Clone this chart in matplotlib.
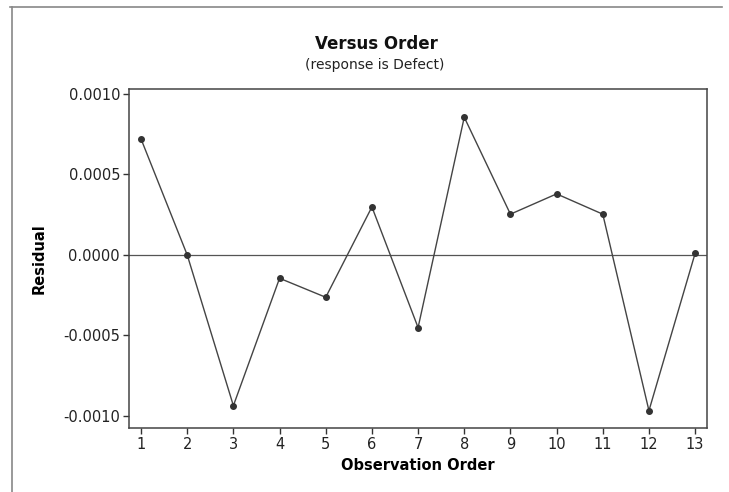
import matplotlib
matplotlib.use('Agg')
import matplotlib.pyplot as plt
from matplotlib.lines import Line2D

# residuals in observation order
order = list(range(1, 14))
residual = [0.00072, 0.0, -0.000936, -0.000145, -0.000263, 0.000298, -0.000451,
            0.000855, 0.000253, 0.000379, 0.000253, -0.000967, 0.00001]
yticks = [-0.0010, -0.0005, 0.0, 0.0005, 0.0010]

plt.rcParams['font.family'] = ['DejaVu Sans']

fig = plt.figure(figsize=(7.29, 4.92), dpi=100)
ax = fig.add_axes([0.177, 0.130, 0.793, 0.689])

ax.axhline(0, color='#555555', lw=0.9, zorder=1)
ax.plot(order, residual, color='#444444', lw=1.0, marker='o', ms=4,
        mfc='#333333', mec='#333333', zorder=2)

ax.set_xlim(0.74, 13.26)
ax.set_ylim(-0.001075, 0.00103)
ax.set_xticks(order)
ax.set_yticks(yticks)
ax.set_yticklabels([f'{v:.4f}' for v in yticks])
ax.tick_params(direction='out', length=4, width=1, colors='#333333',
               labelsize=10.5, labelcolor='#222222', pad=2.5)
for s in ax.spines.values():
    s.set_color('#444444')
    s.set_linewidth(1.1)

ax.set_xlabel('Observation Order', fontsize=10.5, fontweight='bold', labelpad=4)
ax.set_ylabel('Residual', fontsize=10.5, fontweight='bold', labelpad=12)

fig.text(0.516, 0.911, 'Versus Order', ha='center', va='center',
         fontsize=12, fontweight='bold', color='#111111')
fig.text(0.514, 0.867, '(response is Defect)', ha='center', va='center',
         fontsize=10, color='#222222')

# outer frame lines (top and left)
fig.add_artist(Line2D([0.014, 0.99], [0.986, 0.986], transform=fig.transFigure,
                      color='#888888', lw=1.2))
fig.add_artist(Line2D([0.016, 0.016], [0.0, 0.986], transform=fig.transFigure,
                      color='#888888', lw=1.2))

fig.savefig('out.png', dpi=100)
